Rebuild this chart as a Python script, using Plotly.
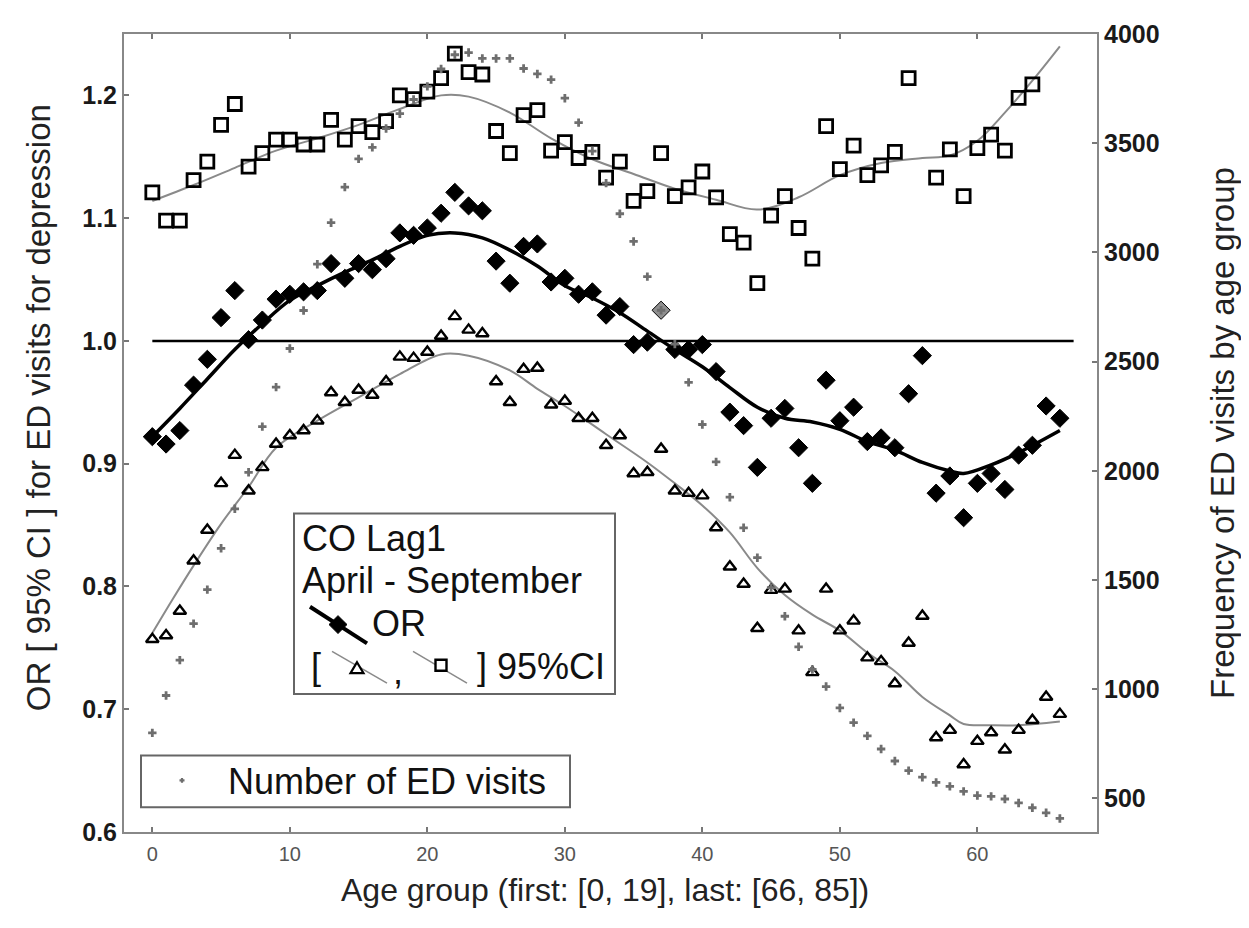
import plotly.graph_objects as go

# ---------------- data ----------------
age = list(range(67))

or_vals = [0.922, 0.916, 0.927, 0.964, 0.985, 1.019, 1.041, 1.001, 1.017, 1.034,
           1.038, 1.040, 1.041, 1.063, 1.051, 1.063, 1.058, 1.067, 1.088, 1.086,
           1.092, 1.104, 1.121, 1.110, 1.106, 1.065, 1.047, 1.077, 1.079, 1.048,
           1.051, 1.038, 1.040, 1.021, 1.028, 0.997, 0.999, 1.025, 0.993, 0.993,
           0.997, 0.975, 0.942, 0.931, 0.897, 0.937, 0.945, 0.913, 0.884, 0.968,
           0.935, 0.946, 0.918, 0.921, 0.913, 0.957, 0.988, 0.876, 0.890, 0.856,
           0.884, 0.892, 0.879, 0.907, 0.915, 0.947, 0.937]

ci_low = [0.757, 0.760, 0.780, 0.821, 0.846, 0.884, 0.907, 0.878, 0.897, 0.916,
          0.923, 0.927, 0.935, 0.958, 0.950, 0.960, 0.956, 0.967, 0.987, 0.986,
          0.991, 1.004, 1.020, 1.009, 1.006, 0.967, 0.950, 0.977, 0.978, 0.948,
          0.951, 0.937, 0.937, 0.915, 0.923, 0.892, 0.893, 0.912, 0.878, 0.876,
          0.874, 0.848, 0.816, 0.802, 0.766, 0.797, 0.798, 0.764, 0.730, 0.798,
          0.764, 0.772, 0.742, 0.739, 0.721, 0.754, 0.776, 0.677, 0.683, 0.655,
          0.674, 0.681, 0.667, 0.683, 0.691, 0.710, 0.696]

ci_high = [1.121, 1.098, 1.098, 1.131, 1.146, 1.176, 1.193, 1.142, 1.153, 1.164,
           1.164, 1.160, 1.160, 1.180, 1.164, 1.175, 1.170, 1.179, 1.200, 1.197,
           1.203, 1.214, 1.234, 1.219, 1.217, 1.171, 1.153, 1.184, 1.188, 1.155,
           1.162, 1.149, 1.154, 1.133, 1.146, 1.114, 1.122, 1.153, 1.118, 1.125,
           1.138, 1.117, 1.087, 1.080, 1.047, 1.102, 1.118, 1.092, 1.067, 1.175,
           1.140, 1.159, 1.135, 1.143, 1.154, 1.214, 1.270, 1.133, 1.156, 1.118,
           1.157, 1.168, 1.155, 1.198, 1.209, 1.262, 1.258]

visits = [800, 971, 1133, 1300, 1456, 1645, 1826, 1993, 2202, 2383,
          2560, 2734, 2946, 3136, 3299, 3428, 3481, 3567, 3635, 3700,
          3760, 3840, 3905, 3915, 3888, 3888, 3888, 3842, 3817, 3791,
          3706, 3594, 3464, 3317, 3177, 3050, 2889, 2735, 2580, 2405,
          2212, 2041, 1879, 1739, 1602, 1465, 1334, 1194, 1090, 1012,
          914, 847, 786, 726, 671, 627, 597, 573, 555, 532,
          513, 509, 497, 479, 457, 434, 408]

fit_or_x = [0, 2, 4, 6, 8, 10, 12, 14, 16, 18, 20, 22, 24, 26, 28, 30, 32, 34,
            36, 38, 40, 42, 44, 46, 48, 50, 52, 54, 56, 58, 59, 61, 63, 66]
fit_or_y = [0.922, 0.945, 0.969, 0.993, 1.014, 1.033, 1.045, 1.056, 1.066, 1.077,
            1.086, 1.088, 1.084, 1.074, 1.061, 1.045, 1.035, 1.023, 1.008, 0.993,
            0.979, 0.962, 0.946, 0.937, 0.934, 0.928, 0.918, 0.911, 0.901, 0.894,
            0.892, 0.899, 0.909, 0.927]

fit_lo_x = [0, 1.5, 3, 5, 7, 9, 12, 15, 18, 21, 23, 26, 28, 30, 33, 36, 38, 40,
            42, 44, 46, 48, 50, 52, 54, 56, 58, 59, 61, 63, 66]
fit_lo_y = [0.762, 0.790, 0.817, 0.851, 0.881, 0.913, 0.935, 0.954, 0.973, 0.989,
            0.988, 0.976, 0.961, 0.947, 0.924, 0.901, 0.884, 0.866, 0.844, 0.815,
            0.793, 0.777, 0.764, 0.746, 0.731, 0.710, 0.695, 0.688, 0.687, 0.687,
            0.690]

fit_hi_x = [0, 3, 6, 9, 12, 15, 18, 21, 23, 26, 29, 32, 35, 38, 41, 44, 47, 50,
            53, 56, 58, 60, 62, 64, 66]
fit_hi_y = [1.114, 1.127, 1.141, 1.155, 1.165, 1.176, 1.189, 1.200, 1.199, 1.186,
            1.165, 1.148, 1.136, 1.124, 1.115, 1.107, 1.117, 1.135, 1.145, 1.149,
            1.151, 1.163, 1.186, 1.212, 1.240]

ref_x = [0, 67]
ref_y = [1.0, 1.0]

x_ticks = [0, 10, 20, 30, 40, 50, 60]
y_ticks = [0.6, 0.7, 0.8, 0.9, 1.0, 1.1, 1.2]
y2_ticks = [500, 1000, 1500, 2000, 2500, 3000, 3500, 4000]

# ---------------- figure ----------------
# the page body has an 8px margin, so the figure is 8px smaller than the window
OFF = 8
W, H = 1249 - OFF, 928 - OFF
L, R, T, B = 124, 1097, 28, 832          # plot area in window pixels
FONT = "Liberation Sans, Arial, sans-serif"


def px(x):
    return (x - L) / (R - L)


def py(y):
    return (B - y) / (B - T)


fig = go.Figure()

fig.add_trace(go.Scatter(x=ref_x, y=ref_y, mode="lines",
                         line=dict(color="black", width=2.5), showlegend=False,
                         hoverinfo="skip"))
fig.add_trace(go.Scatter(x=fit_hi_x, y=fit_hi_y, mode="lines", line_shape="spline",
                         line=dict(color="#8a8a8a", width=2), showlegend=False))
fig.add_trace(go.Scatter(x=fit_lo_x, y=fit_lo_y, mode="lines", line_shape="spline",
                         line=dict(color="#8a8a8a", width=2), showlegend=False))
fig.add_trace(go.Scatter(x=age, y=ci_high, mode="markers", name="upper 95%CI",
                         marker=dict(symbol="square-open", size=13, color="black",
                                     line=dict(width=2.8, color="black")),
                         showlegend=False))
fig.add_trace(go.Scatter(x=age, y=ci_low, mode="markers", name="lower 95%CI",
                         marker=dict(symbol="triangle-up-open", size=11, color="black",
                                     line=dict(width=2.4, color="black")),
                         showlegend=False))
or_colors = ["black"] * len(age)
or_colors[37] = "#8f8f8f"
fig.add_trace(go.Scatter(x=fit_or_x, y=fit_or_y, mode="lines", line_shape="spline",
                         line=dict(color="black", width=3.5), showlegend=False))
fig.add_trace(go.Scatter(x=age, y=or_vals, mode="markers", name="OR",
                         marker=dict(symbol="diamond", size=14, color=or_colors,
                                     line=dict(width=1, color="black")),
                         showlegend=False))
fig.add_trace(go.Scatter(x=age, y=visits, mode="markers", name="Number of ED visits",
                         yaxis="y2",
                         marker=dict(symbol="cross", size=7, color="#6e6e6e",
                                     line=dict(width=0)),
                         showlegend=False))

# ---------------- legend boxes and titles (shapes and text) ----------------
shapes = []
ann = []


def rect(x0, y0, x1, y1, lw=2, col="#666666", fill="white"):
    shapes.append(dict(type="rect", xref="paper", yref="paper",
                       x0=px(x0), x1=px(x1), y0=py(y1), y1=py(y0),
                       line=dict(color=col, width=lw), fillcolor=fill, layer="above"))


def seg(x0, y0, x1, y1, col, lw):
    shapes.append(dict(type="line", xref="paper", yref="paper",
                       x0=px(x0), y0=py(y0), x1=px(x1), y1=py(y1),
                       line=dict(color=col, width=lw), layer="above"))


def poly(pts, fill, col, lw):
    d = "M " + " L ".join(f"{px(a):.5f},{py(b):.5f}" for a, b in pts) + " Z"
    shapes.append(dict(type="path", xref="paper", yref="paper", path=d,
                       fillcolor=fill, line=dict(color=col, width=lw), layer="above"))


def text(x, y, s, size=36, anchor="left", color="#111111", angle=0):
    ann.append(dict(xref="paper", yref="paper", x=px(x), y=py(y), text=s,
                    showarrow=False, xanchor=anchor, yanchor="middle",
                    textangle=angle,
                    font=dict(family=FONT, size=size, color=color)))


rect(294, 511, 615, 693)
text(300, 536, "CO Lag1")
text(300, 579, "April - September")
seg(310, 605, 367, 642, "black", 4)
poly([(338, 614), (347, 623), (338, 632), (329, 623)], "black", "black", 1)
text(370, 622, "OR")
text(309, 665, "[")
seg(332, 650, 387, 682, "#8a8a8a", 1.5)
poly([(357, 661), (363.5, 672), (350.5, 672)], "white", "black", 2.2)
text(391, 670, ",")
seg(413, 650, 467, 682, "#8a8a8a", 1.5)
rect(435.5, 658.5, 446.5, 669.5, lw=2.4, col="black")
text(475, 665, "] 95%CI")

rect(141, 755, 570, 807)
poly([(179.5, 780), (184.5, 780)], "rgba(0,0,0,0)", "#6e6e6e", 2.2)
poly([(182, 777.5), (182, 782.5)], "rgba(0,0,0,0)", "#6e6e6e", 2.2)
text(226, 781, "Number of ED visits")

# axis titles
text(605, 890, "Age group (first: [0, 19], last: [66, 85])", size=32,
     anchor="center", color="#222222")
text(38, 405, "OR [ 95% CI ] for ED visits for depression", size=33,
     anchor="center", color="#222222", angle=-90)
text(1222, 430, "Frequency of ED visits by age group", size=33,
     anchor="center", color="#222222", angle=-90)

tickfont_y = dict(size=25, color="#1a1a1a", family=FONT, weight="bold")

fig.update_layout(
    width=W, height=H, autosize=False,
    margin=dict(l=L - OFF, r=W - (R - OFF), t=T - OFF, b=H - (B - OFF), pad=0),
    paper_bgcolor="white", plot_bgcolor="white",
    font=dict(family=FONT, color="#111111"),
    shapes=shapes, annotations=ann,
    showlegend=False,
    xaxis=dict(range=[-2.06, 68.7], tickvals=x_ticks, ticks="inside", ticklen=5,
               tickcolor="#777777", tickwidth=1.5, showline=True, linecolor="#888888",
               linewidth=2, mirror="ticks", showgrid=False, zeroline=False,
               ticklabelstandoff=3,
               tickfont=dict(size=20, color="#555555")),
    yaxis=dict(range=[0.6, 1.25], tickvals=y_ticks, tickformat=".1f", ticks="inside",
               ticklen=5, tickcolor="#777777", tickwidth=1.5, showline=True,
               linecolor="#888888", linewidth=2, showgrid=False, zeroline=False,
               tickfont=tickfont_y),
    yaxis2=dict(range=[346, 4000], tickvals=y2_ticks, overlaying="y", side="right",
                ticks="inside", ticklen=5, tickcolor="#777777", tickwidth=1.5,
                showline=True, linecolor="#888888", linewidth=2, showgrid=False,
                zeroline=False, tickfont=tickfont_y),
)

fig.write_html("out.html")
